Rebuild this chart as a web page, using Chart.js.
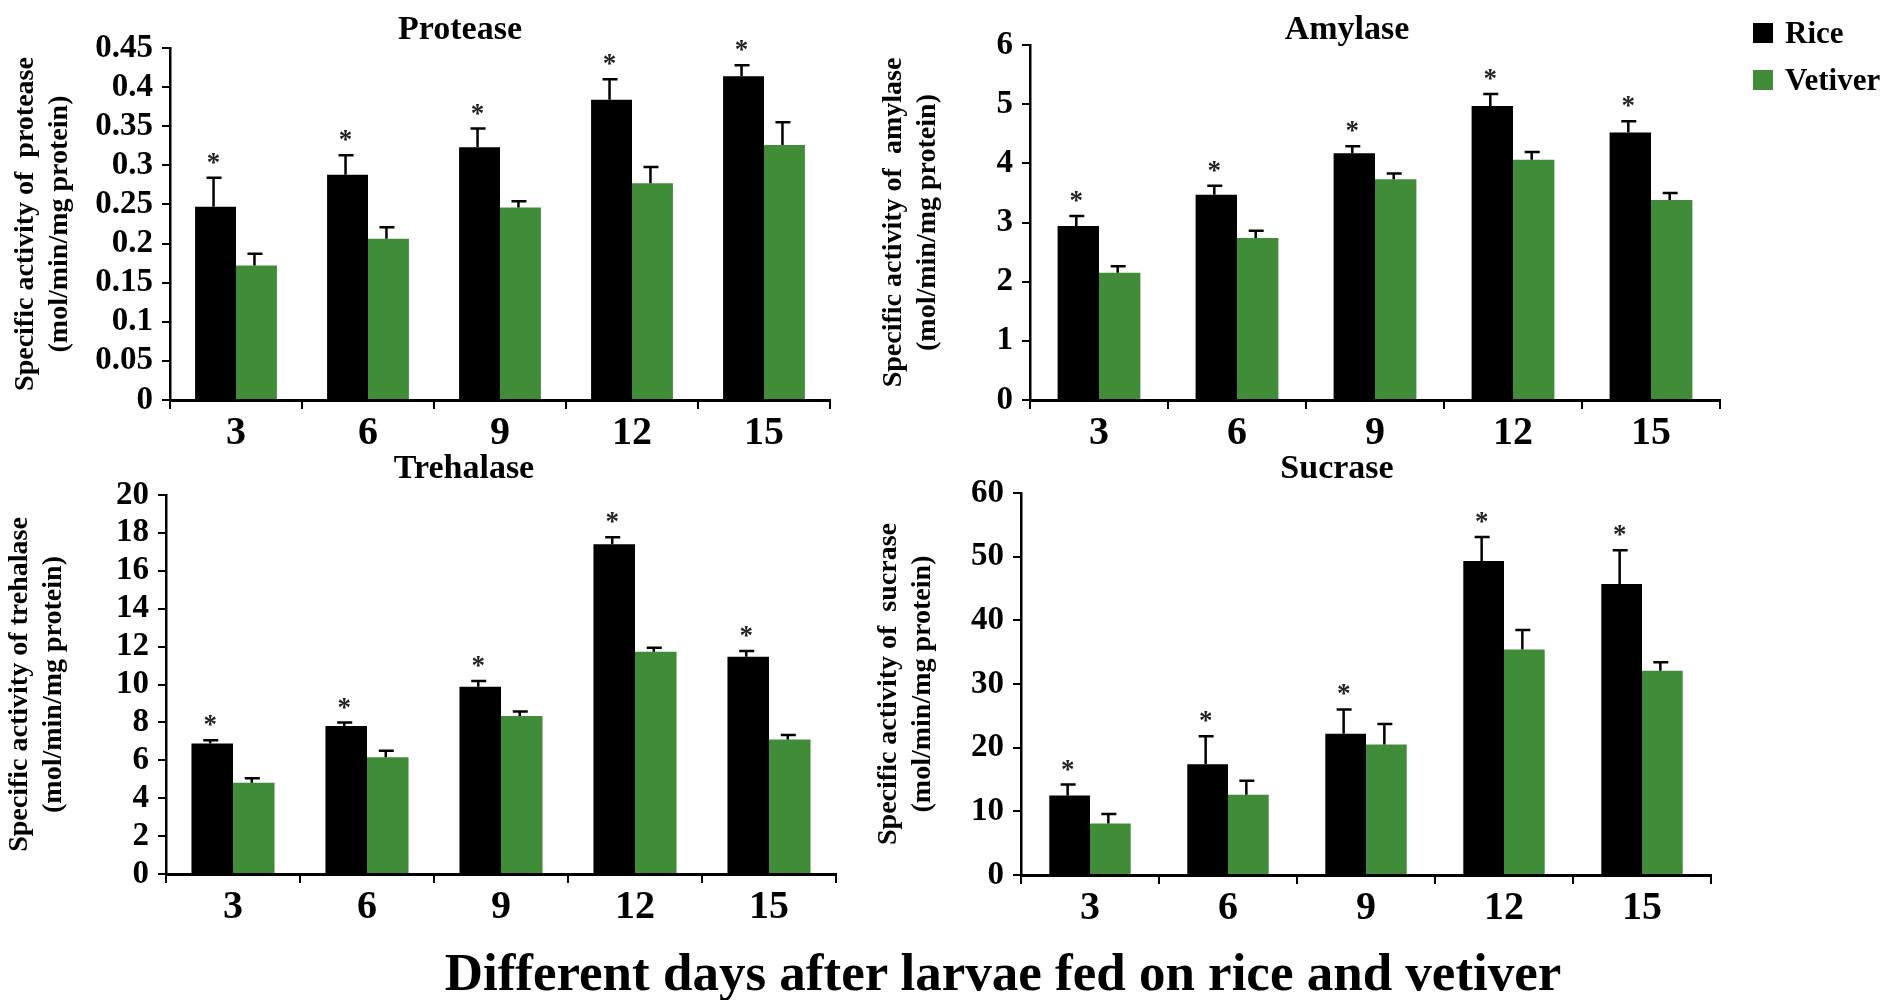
<!DOCTYPE html>
<html>
<head>
<meta charset="utf-8">
<script src="https://cdn.jsdelivr.net/npm/chart.js@4.4.0/dist/chart.umd.min.js"></script>
<style>
  body { margin: 0; background: #fff; width: 1894px; height: 1000px; position: relative; overflow: hidden;
         font-family: 'Liberation Serif', 'Times New Roman', serif; }
  canvas { position: absolute; }
  .leg { position: absolute; left: 1753px; height: 30px; display: flex; align-items: center;
         font-weight: bold; font-size: 31px; line-height: 30px; }
  .leg .box { width: 20px; height: 20px; margin-right: 12px; }
  #caption { position: absolute; left: 1003px; top: 942px; transform: translateX(-50%); white-space: nowrap;
             font-weight: bold; font-size: 53px; line-height: 60px; }
</style>
</head>
<body>
<canvas id="protease" width="860" height="450" style="left:0;top:0"></canvas>
<canvas id="amylase" width="1034" height="450" style="left:860px;top:0"></canvas>
<canvas id="trehalase" width="860" height="480" style="left:0;top:450px"></canvas>
<canvas id="sucrase" width="1034" height="480" style="left:860px;top:450px"></canvas>

<div class="leg" style="top:18px"><div class="box" style="background:#000"></div>Rice</div>
<div class="leg" style="top:65px"><div class="box" style="background:#408c38"></div>Vetiver</div>
<div id="caption">Different days after larvae fed on rice and vetiver</div>

<script>
const days = ['3', '6', '9', '12', '15'];
const riceColor = '#000000';
const vetiverColor = '#408c38';

// protease
const proteaseRice = [0.247, 0.288, 0.323, 0.384, 0.414];
const proteaseRiceErr = [0.037, 0.025, 0.024, 0.026, 0.014];
const proteaseVetiver = [0.172, 0.206, 0.246, 0.277, 0.326];
const proteaseVetiverErr = [0.015, 0.015, 0.008, 0.021, 0.029];
const proteaseTicks = [0, 0.05, 0.1, 0.15, 0.2, 0.25, 0.3, 0.35, 0.4, 0.45];

// amylase
const amylaseRice = [2.94, 3.47, 4.17, 4.97, 4.52];
const amylaseRiceErr = [0.17, 0.15, 0.12, 0.2, 0.19];
const amylaseVetiver = [2.15, 2.74, 3.73, 4.06, 3.38];
const amylaseVetiverErr = [0.11, 0.12, 0.1, 0.13, 0.12];
const amylaseTicks = [0, 1, 2, 3, 4, 5, 6];

// trehalase
const trehalaseRice = [6.88, 7.81, 9.88, 17.4, 11.47];
const trehalaseRiceErr = [0.18, 0.18, 0.3, 0.37, 0.3];
const trehalaseVetiver = [4.82, 6.16, 8.34, 11.73, 7.1];
const trehalaseVetiverErr = [0.23, 0.35, 0.24, 0.21, 0.23];
const trehalaseTicks = [0, 2, 4, 6, 8, 10, 12, 14, 16, 18, 20];

// sucrase
const sucraseRice = [12.5, 17.4, 22.2, 49.3, 45.7];
const sucraseRiceErr = [1.7, 4.4, 3.8, 3.8, 5.3];
const sucraseVetiver = [8.1, 12.6, 20.5, 35.4, 32.1];
const sucraseVetiverErr = [1.5, 2.2, 3.2, 3.1, 1.3];
const sucraseTicks = [0, 10, 20, 30, 40, 50, 60];

const serif = "'Liberation Serif', 'Times New Roman', serif";
Chart.defaults.font.family = serif;
Chart.defaults.font.weight = 'bold';
Chart.defaults.color = '#000';

// error bars, significance stars and panel title
const extras = {
  id: 'extras',
  afterDatasetsDraw(chart, args, opts) {
    const ctx = chart.ctx;
    const yScale = chart.scales.y;
    ctx.save();
    chart.data.datasets.forEach((ds, i) => {
      chart.getDatasetMeta(i).data.forEach((bar, j) => {
        const top = yScale.getPixelForValue(ds.data[j] + ds.errors[j]);
        const x = bar.x - 2;
        ctx.strokeStyle = '#000';
        ctx.lineWidth = 2.5;
        ctx.beginPath();
        ctx.moveTo(x, bar.y);
        ctx.lineTo(x, top);
        ctx.moveTo(x - 7, top);
        ctx.lineTo(x + 8, top);
        ctx.stroke();
        if (ds.star) {
          ctx.fillStyle = '#222';
          ctx.font = 'bold 27px ' + serif;
          ctx.textAlign = 'center';
          ctx.textBaseline = 'alphabetic';
          ctx.fillText('*', x, top - 20 + 13);
        }
      });
    });
    ctx.fillStyle = '#000';
    ctx.font = 'bold 34px ' + serif;
    ctx.textAlign = 'center';
    ctx.textBaseline = 'middle';
    ctx.fillText(opts.title, opts.titleX, opts.titleY);
    ctx.restore();
  }
};

function panel(id, p) {
  new Chart(document.getElementById(id), {
    type: 'bar',
    plugins: [extras],
    data: {
      labels: days,
      datasets: [
        { label: 'Rice', data: p.rice, errors: p.riceErr, star: true, backgroundColor: riceColor },
        { label: 'Vetiver', data: p.vet, errors: p.vetErr, star: false, backgroundColor: vetiverColor }
      ]
    },
    options: {
      responsive: false,
      animation: false,
      devicePixelRatio: 1,
      layout: { padding: { top: p.top, right: p.right, left: 0, bottom: 0 } },
      datasets: { bar: { categoryPercentage: p.cat, barPercentage: 1 } },
      plugins: {
        legend: { display: false },
        tooltip: { enabled: false },
        extras: { title: p.title, titleX: p.titleX, titleY: p.titleY }
      },
      scales: {
        x: {
          offset: true,
          grid: { offset: true, drawOnChartArea: false, color: '#000', lineWidth: 2, tickLength: 9 },
          border: { color: '#000', width: 3 },
          ticks: { color: '#000', font: { size: 40, weight: 'bold' }, padding: 1, maxRotation: 0, autoSkip: false },
          afterFit(s) { s.height = p.xh; }
        },
        y: {
          min: 0,
          max: p.ticks[p.ticks.length - 1],
          afterBuildTicks(s) { s.ticks = p.ticks.map(v => ({ value: v })); },
          grid: { drawOnChartArea: false, color: '#000', lineWidth: 2, tickLength: 8 },
          border: { color: '#000', width: 2.5 },
          ticks: { color: '#000', font: { size: 33, weight: 'bold' }, padding: 9, autoSkip: false,
                   callback: v => String(+v.toFixed(2)) },
          title: { display: true, text: p.yTitle, color: '#000',
                   font: { size: 28, weight: 'bold', lineHeight: 1.22 }, padding: { top: p.ytp, bottom: 0 } },
          afterFit(s) { s.width = p.yw; }
        }
      }
    }
  });
}

panel('protease', {
  rice: proteaseRice, riceErr: proteaseRiceErr, vet: proteaseVetiver, vetErr: proteaseVetiverErr,
  ticks: proteaseTicks, title: 'Protease', titleX: 460, titleY: 30,
  yTitle: ['Specific activity of  protease', '(mol/min/mg protein)'],
  top: 48, right: 30, yw: 170, xh: 50, ytp: 9, cat: 0.62
});
panel('amylase', {
  rice: amylaseRice, riceErr: amylaseRiceErr, vet: amylaseVetiver, vetErr: amylaseVetiverErr,
  ticks: amylaseTicks, title: 'Amylase', titleX: 487, titleY: 30,
  yTitle: ['Specific activity of  amylase', '(mol/min/mg protein)'],
  top: 45, right: 174, yw: 170, xh: 50, ytp: 17, cat: 0.6
});
panel('trehalase', {
  rice: trehalaseRice, riceErr: trehalaseRiceErr, vet: trehalaseVetiver, vetErr: trehalaseVetiverErr,
  ticks: trehalaseTicks, title: 'Trehalase', titleX: 464, titleY: 19,
  yTitle: ['Specific activity of trehalase', '(mol/min/mg protein)'],
  top: 45, right: 24, yw: 166, xh: 56, ytp: 3, cat: 0.62
});
panel('sucrase', {
  rice: sucraseRice, riceErr: sucraseRiceErr, vet: sucraseVetiver, vetErr: sucraseVetiverErr,
  ticks: sucraseTicks, title: 'Sucrase', titleX: 477, titleY: 19,
  yTitle: ['Specific activity of  sucrase', '(mol/min/mg protein)'],
  top: 43, right: 183, yw: 161, xh: 55, ytp: 12, cat: 0.59
});
</script>
</body>
</html>
